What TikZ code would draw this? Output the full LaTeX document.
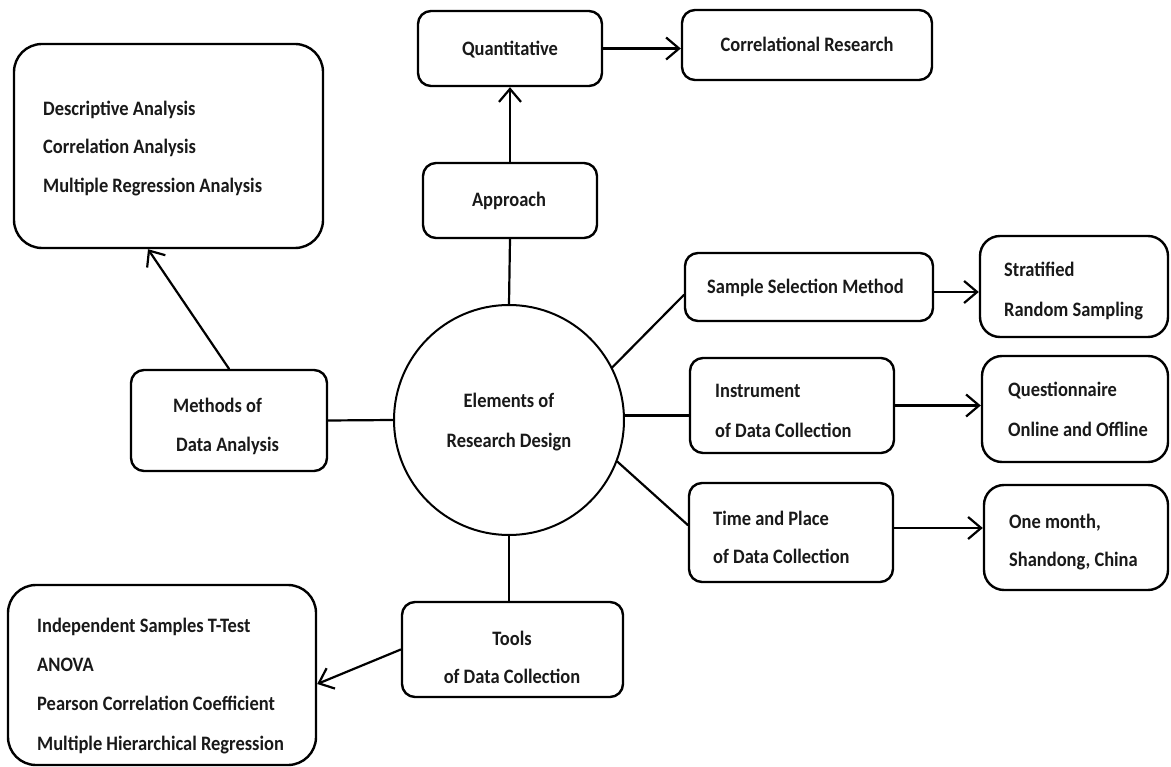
\documentclass[tikz,border=0pt]{standalone}
\usepackage{fontspec}
\setmainfont{Carlito}[FakeStretch=0.9]
\usetikzlibrary{arrows.meta,calc}
\begin{document}
\begin{tikzpicture}[x=1pt,y=-1pt,
  box/.style={draw=black,line width=2.4pt,rounded corners=13pt,inner sep=0pt},
  bigbox/.style={box,rounded corners=28pt},
  txt/.style={inner sep=0pt,anchor=base west,font=\fontsize{20.5}{24}\selectfont\bfseries,text=black!90},
  ctxt/.style={txt,anchor=base},
  conn/.style={line width=2.2pt,line cap=round},
  arr/.style={conn,-{Straight Barb[length=13pt,width=22pt,line width=2.2pt]}}]
\useasboundingbox (0,0) rectangle (1171,767);
% boxes
\node[bigbox,minimum width=309pt,minimum height=204pt] (ana) at (168.5,146) {};
\node[box,minimum width=184pt,minimum height=75pt] (quant) at (510,48.5) {};
\node[box,minimum width=250pt,minimum height=70pt] (corr) at (807,45) {};
\node[box,minimum width=174pt,minimum height=75pt] (appr) at (510,200.5) {};
\node[box,minimum width=248pt,minimum height=68pt] (samp) at (809,287) {};
\node[box,rounded corners=20pt,minimum width=188pt,minimum height=101pt] (strat) at (1074,286.5) {};
\node[box,minimum width=204pt,minimum height=95pt] (instr) at (792,405.5) {};
\node[box,rounded corners=20pt,minimum width=186pt,minimum height=106pt] (quest) at (1075,409) {};
\node[box,minimum width=204pt,minimum height=99pt] (time) at (791,532.5) {};
\node[box,rounded corners=20pt,minimum width=184pt,minimum height=105pt] (month) at (1076,537.5) {};
\node[box,minimum width=196pt,minimum height=101pt] (meth) at (229,420.5) {};
\node[box,minimum width=221pt,minimum height=95pt] (tools) at (512.5,649.5) {};
\node[bigbox,minimum width=308pt,minimum height=180pt] (tests) at (162,675) {};
\node[draw=black,line width=2pt,circle,minimum size=230pt,inner sep=0pt] (el) at (509,420) {};
% texts
\node[txt] (t1) at (43,116) {Descriptive Analysis};
\node[txt] (t2) at (43,154) {Correlation Analysis};
\node[txt] (t3) at (43,193) {Multiple Regression Analysis};
\node[ctxt] (t4) at (510,56) {Quantitative};
\node[ctxt] (t5) at (807,52) {Correlational Research};
\node[ctxt] (t6) at (509,207) {Approach};
\node[txt] (t7) at (707,294) {Sample Selection Method};
\node[txt] (t8) at (1004,277) {Stratified};
\node[txt] (t9) at (1004,317) {Random Sampling};
\node[txt] (t10) at (715,398) {Instrument};
\node[txt] (t11) at (715,438) {of Data Collection};
\node[txt] (t12) at (1008,397) {Questionnaire};
\node[txt] (t13) at (1008,437) {Online and Offline};
\node[txt] (t14) at (713,525) {Time and Place};
\node[txt] (t15) at (713,563) {of Data Collection};
\node[txt] (t16) at (1009,528) {One month,};
\node[txt] (t17) at (1009,566) {Shandong, China};
\node[txt] (t18) at (173,413) {Methods of};
\node[txt] (t19) at (176,451) {Data Analysis};
\node[ctxt] (t20) at (509,408) {Elements of};
\node[ctxt] (t21) at (509,447) {Research Design};
\node[ctxt] (t22) at (512,645) {Tools};
\node[ctxt] (t23) at (512,683) {of Data Collection};
\node[txt] (t24) at (37,632) {Independent Samples T-Test};
\node[txt] (t25) at (37,671) {ANOVA};
\node[txt] (t26) at (37,710) {Pearson Correlation Coefficient};
\node[txt] (t27) at (37,750) {Multiple Hierarchical Regression};
% connectors
\draw[arr] (appr.north) -- (quant.south);
\draw[arr] (quant.east) -- (quant.east -| corr.west);
\draw[conn] (appr.south) -- (el.north);
\draw[conn] (el.27) -- ([yshift=-8pt]samp.west);
\draw[arr] ([yshift=-5pt]samp.east) -- ([yshift=-5pt]samp.east -| strat.west);
\draw[conn] ([yshift=-10pt]instr.west) -- ([yshift=-10pt]instr.west -| el.east);
\draw[arr] (instr.east) -- (instr.east -| quest.west);
\draw[conn] (el.-21) -- ([yshift=7.5pt]time.west);
\draw[arr] ([yshift=4.5pt]time.east) -- ([yshift=4.5pt]time.east -| month.west);
\draw[conn] (meth.east) -- (el.west);
\draw[arr] (meth.north) -- ([xshift=-20.5pt]ana.south);
\draw[conn] (el.south) -- (el.south |- tools.north);
\draw[arr] (tools.west) -- ([yshift=-9pt]tests.east);
\end{tikzpicture}
\end{document}
